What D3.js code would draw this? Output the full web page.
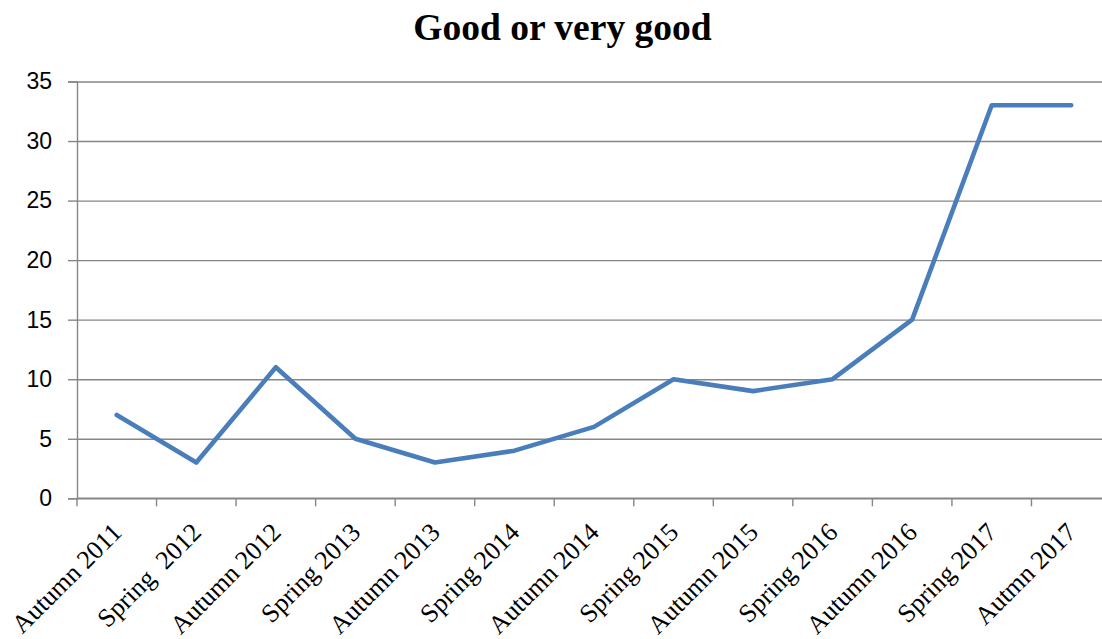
<!DOCTYPE html>
<html>
<head>
<meta charset="utf-8">
<script src="https://cdn.jsdelivr.net/npm/d3@7"></script>
<style>
  body { margin: 0; background: #fff; }
  svg { display: block; }
  .xlab { white-space: pre; }
</style>
</head>
<body>
<div id="chart"></div>
<script>
const categories = ["Autumn 2011", "Spring  2012", "Autumn 2012", "Spring 2013", "Autumn 2013",
  "Spring 2014", "Autumn 2014", "Spring 2015", "Autumn 2015", "Spring 2016",
  "Autumn 2016", "Spring 2017", "Autmn 2017"];
const values = [7, 3, 11, 5, 3, 4, 6, 10, 9, 10, 15, 33, 33];
const yTicks = [0, 5, 10, 15, 20, 25, 30, 35];
const title = "Good or very good";

const width = 1102, height = 639;
const plotLeft = 77, plotRight = 1111, plotTop = 81.5, plotBottom = 498.3;

const svg = d3.select("#chart").append("svg")
    .attr("width", width)
    .attr("height", height);

const xScale = d3.scaleBand().domain(categories).range([plotLeft, plotRight]).padding(0);
const yScale = d3.scaleLinear().domain([0, 35]).range([plotBottom, plotTop]);

// title
svg.append("text")
    .attr("x", 562.5)
    .attr("y", 39.5)
    .attr("text-anchor", "middle")
    .style("font-family", "'Liberation Serif', 'Times New Roman', serif")
    .style("font-weight", "bold")
    .style("font-size", "37.5px")
    .text(title);

// grid
svg.append("g")
    .attr("transform", `translate(${plotLeft},0)`)
    .call(d3.axisLeft(yScale).tickValues(yTicks).tickSize(-(plotRight - plotLeft)).tickFormat(""))
    .call(g => g.select(".domain").remove())
    .call(g => g.selectAll("line").attr("stroke", "#868686").attr("stroke-width", 1.4));

// y axis
svg.append("g")
    .attr("transform", `translate(${plotLeft},0)`)
    .call(d3.axisLeft(yScale).tickValues(yTicks).tickSize(9).tickPadding(16))
    .call(g => g.select(".domain").attr("stroke", "#868686").attr("stroke-width", 1.4))
    .call(g => g.selectAll("line").attr("stroke", "#868686").attr("stroke-width", 1.4))
    .call(g => g.selectAll("text")
        .attr("fill", "#000")
        .style("font-family", "'Liberation Sans', Arial, sans-serif")
        .style("font-size", "23px"));

// x axis (ticks on category boundaries)
const xBound = d3.scaleLinear().domain([0, categories.length]).range([plotLeft, plotRight]);
const xAxisG = svg.append("g").attr("transform", `translate(0,${plotBottom})`);
xAxisG.append("line")
    .attr("x1", plotLeft).attr("x2", plotRight)
    .attr("stroke", "#868686").attr("stroke-width", 1.4);
xAxisG.selectAll(".tk")
    .data(d3.range(categories.length + 1))
    .join("line")
    .attr("class", "tk")
    .attr("x1", d => xBound(d)).attr("x2", d => xBound(d))
    .attr("y1", 0).attr("y2", 8)
    .attr("stroke", "#868686").attr("stroke-width", 1.4);

xAxisG.selectAll(".xlab")
    .data(categories)
    .join("text")
    .attr("class", "xlab")
    .attr("transform", d => `translate(${xScale(d) + xScale.bandwidth() / 2 + 6.5},${35.5}) rotate(-45)`)
    .attr("text-anchor", "end")
    .style("font-family", "'Liberation Serif', 'Times New Roman', serif")
    .style("font-size", "26px")
    .attr("fill", "#000")
    .text(d => d);

// line
const line = d3.line()
    .x((d, i) => xScale(categories[i]) + xScale.bandwidth() / 2)
    .y(d => yScale(d));

svg.append("path")
    .datum(values)
    .attr("d", line)
    .attr("fill", "none")
    .attr("stroke", "#4a7ebb")
    .attr("stroke-width", 4.6)
    .attr("stroke-linejoin", "round")
    .attr("stroke-linecap", "round");
</script>
</body>
</html>
